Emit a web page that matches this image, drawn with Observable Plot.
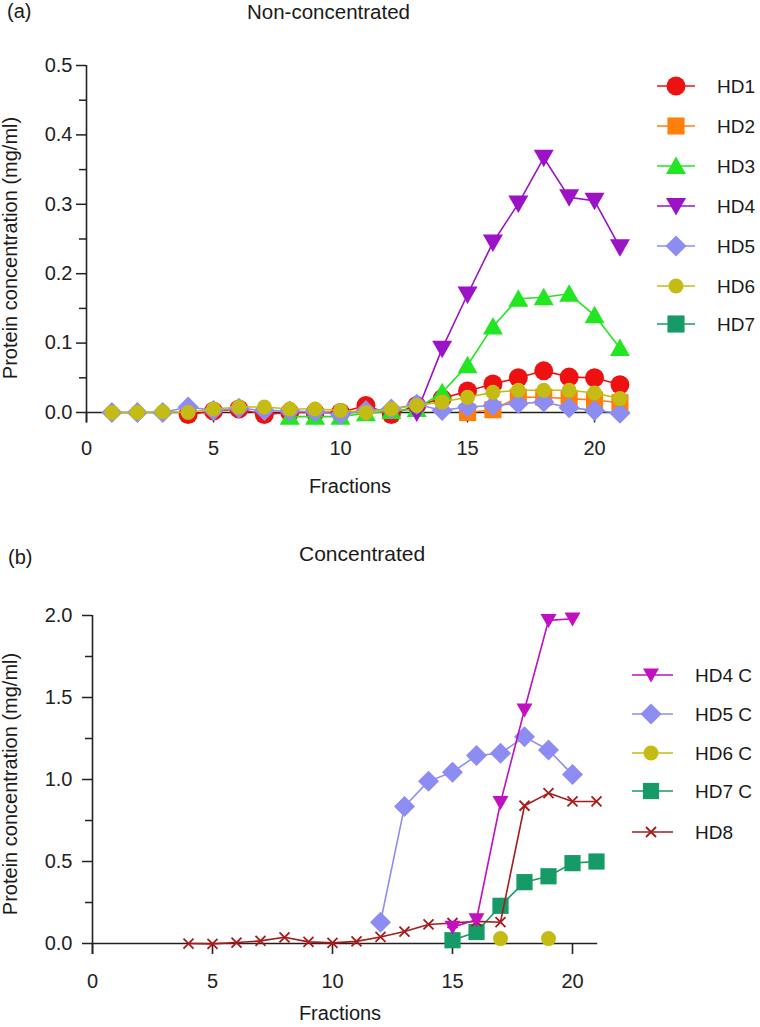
<!DOCTYPE html>
<html><head><meta charset="utf-8">
<script src="https://cdn.jsdelivr.net/npm/d3@7"></script>
<script src="https://cdn.jsdelivr.net/npm/@observablehq/plot@0.6"></script>
<style>
html,body{margin:0;padding:0;background:#fff;}
#wrap{position:relative;width:760px;height:1027px;overflow:hidden;}
#wrap svg{position:absolute;left:0;display:block;background:transparent;}
</style></head><body><div id="wrap"></div>
<script>
// ---------- DATA ----------
const fractions = [1,2,3,4,5,6,7,8,9,10,11,12,13,14,15,16,17,18,19,20,21];

// (a) Non-concentrated, protein concentration (mg/ml)
const hd1 = [null,null,null,-0.003,0.002,0.005,-0.003,0,0,0,0.01,-0.003,0.01,0.02,0.031,0.041,0.05,0.06,0.051,0.05,0.04];
const hd2 = [null,null,null,null,null,null,null,null,null,null,null,null,null,null,0,0.004,0.022,0.022,0.02,0.018,0.014];
const hd3 = [null,null,null,null,null,null,null,-0.006,-0.006,-0.006,-0.001,0.002,0.005,0.029,0.068,0.124,0.164,0.166,0.171,0.14,0.093];
const hd4 = [null,null,null,null,null,null,null,null,null,null,null,null,0,0.092,0.17,0.245,0.301,0.367,0.31,0.305,0.238];
const hd5 = [0,0,0,0.008,0.003,0.006,0.003,0.002,0.001,-0.003,0.003,0.005,0.012,0.003,0.008,0.01,0.013,0.015,0.007,0.003,-0.001];
const hd6 = [0,0,0.001,0,0.005,0.008,0.008,0.005,0.005,0.003,0,0.005,0.01,0.015,0.022,0.029,0.032,0.032,0.032,0.028,0.02];
const hd7 = [null,null,null,null,null,null,null,null,null,null,null,null,null,null,null,null,null,null,null,null,null];

// (b) Concentrated
const hd4c = [null,null,null,null,null,null,null,null,null,null,null,null,null,null,0.1,0.145,0.86,1.425,1.97,1.98,null];
const hd5c = [null,null,null,null,null,null,null,null,null,null,null,0.13,0.835,0.99,1.045,1.146,1.16,1.26,1.18,1.03,null];
const hd6c = [null,null,null,null,null,null,null,null,null,null,null,null,null,null,null,null,0.03,null,0.03,null,null];
const hd7c = [null,null,null,null,null,null,null,null,null,null,null,null,null,null,0.02,0.07,0.23,0.374,0.41,0.49,0.5];
const hd8  = [null,null,null,0,-0.002,0.006,0.016,0.038,0.01,0.004,0.013,0.04,0.073,0.116,0.125,0.135,0.13,0.84,0.917,0.866,0.866];

const xTicks = [0,5,10,15,20];
const yTicksA = [0,0.1,0.2,0.3,0.4,0.5];
const yMinorA = [0.05,0.15,0.25,0.35,0.45];
const yTicksB = [0,0.5,1.0,1.5,2.0];
const yMinorB = [0.25,0.75,1.25,1.75];

// ---------- SYMBOLS ----------
const mk = f => ({draw(ctx, size){ const r = Math.sqrt(size/Math.PI); f(ctx, r); }});
const symCircle = mk((c,r)=>{c.moveTo(r,0); c.arc(0,0,r,0,2*Math.PI); c.closePath();});
const symSquare = mk((c,r)=>{const s=r*0.9; c.moveTo(-s,-s); c.lineTo(s,-s); c.lineTo(s,s); c.lineTo(-s,s); c.closePath();});
const symTriUp = mk((c,r)=>{c.moveTo(0,-0.95*r); c.lineTo(r,0.8*r); c.lineTo(-r,0.8*r); c.closePath();});
const symTriDown = mk((c,r)=>{c.moveTo(0,0.95*r); c.lineTo(r,-0.8*r); c.lineTo(-r,-0.8*r); c.closePath();});
const symDiamond = mk((c,r)=>{const s=1.05*r; c.moveTo(0,-s); c.lineTo(s,0); c.lineTo(0,s); c.lineTo(-s,0); c.closePath();});
const symTimes = mk((c,r)=>{c.moveTo(-r,-r); c.lineTo(r,r); c.moveTo(r,-r); c.lineTo(-r,r);});

const seriesA = [
  {name:"HD1", values:hd1, color:"#ee1111", symbol:symCircle, r:9.5},
  {name:"HD2", values:hd2, color:"#ff7f0a", symbol:symSquare, r:9.5},
  {name:"HD3", values:hd3, color:"#22e622", symbol:symTriUp, r:10},
  {name:"HD4", values:hd4, color:"#9c12c6", symbol:symTriDown, r:10},
  {name:"HD5", values:hd5, color:"#8d8cf2", symbol:symDiamond, r:10},
  {name:"HD6", values:hd6, color:"#c4bc14", symbol:symCircle, r:7.5},
  {name:"HD7", values:hd7, color:"#169a68", symbol:symSquare, r:9.5}
];
const seriesB = [
  {name:"HD5 C", values:hd5c, color:"#8d8cf2", symbol:symDiamond, r:10},
  {name:"HD6 C", values:hd6c, color:"#c4bc14", symbol:symCircle, r:7.5},
  {name:"HD7 C", values:hd7c, color:"#169a68", symbol:symSquare, r:9},
  {name:"HD8",   values:hd8,  color:"#a61c1c", symbol:symTimes, r:5, stroked:true},
  {name:"HD4 C", values:hd4c, color:"#c010c0", symbol:symTriDown, r:8}
];
const legendOrderB = ["HD4 C","HD5 C","HD6 C","HD7 C","HD8"];

const FONT = "'Liberation Sans', Arial, Helvetica, sans-serif";
const AX = "#222";

function seriesMarks(series){
  const marks = [];
  for (const s of series){
    const rows = fractions.map((f,i)=>({f, v: s.values[i] == null ? NaN : s.values[i]}));
    marks.push(Plot.line(rows, {x:"f", y:"v", stroke:s.color, strokeWidth:1.6}));
    const pts = rows.filter(d => !isNaN(d.v));
    if (s.stroked) marks.push(Plot.dot(pts, {x:"f", y:"v", symbol:s.symbol, r:s.r, fill:"none", stroke:s.color, strokeWidth:1.8}));
    else marks.push(Plot.dot(pts, {x:"f", y:"v", symbol:s.symbol, r:s.r, fill:s.color, stroke:"none"}));
  }
  return marks;
}

function panel({height, marginTop, marginBottom, marginLeft, marginRight, xMax, yMin, yMax, yTicks, yMinor, tickPad, xPad, series, fmt}){
  return Plot.plot({
    width: 760, height, marginTop, marginBottom, marginLeft, marginRight,
    style: {fontFamily: FONT, fontSize: "20px", color: AX, background: "transparent", overflow: "visible"},
    x: {domain: [0, xMax]},
    y: {domain: [yMin, yMax]},
    marks: [
      Plot.axisY({ticks: yTicks, tickSize: 10, tickPadding: tickPad, tickFormat: d3.format(fmt), label: null, strokeWidth: 1.5}),
      Plot.axisY({ticks: yMinor, tickSize: 7, tickFormat: () => "", label: null, strokeWidth: 1.5}),
      Plot.axisX({ticks: xTicks, tickSize: 0, tickPadding: xPad, tickFormat: d3.format("d"), label: null}),
      Plot.ruleX([0], {y1: yMin, y2: yMax, stroke: AX, strokeWidth: 1.6}),
      Plot.ruleX(xTicks, {y1: yMin, y2: 0, stroke: AX, strokeWidth: 1.6}),
      Plot.ruleY([0], {x1: 0, x2: xMax, stroke: AX, strokeWidth: 1.6}),
      ...seriesMarks(series)
    ]
  });
}

function addText(g, x, y, str, opts = {}){
  const t = g.append("text").attr("x", x).attr("y", y).text(str)
    .attr("font-family", FONT).attr("font-size", opts.size || 20).attr("fill", "#1a1a1a")
    .attr("text-anchor", opts.anchor || "start");
  if (opts.rotate) t.attr("transform", `rotate(-90,${x},${y})`);
  return t;
}

function legend(svg, items, {xLine1, xLine2, xSym, xText, ys}){
  const g = d3.select(svg).append("g");
  items.forEach((s, i) => {
    const y = ys[i];
    g.append("line").attr("x1", xLine1).attr("x2", xLine2).attr("y1", y).attr("y2", y)
      .attr("stroke", s.color).attr("stroke-width", 1.6);
    const p = g.append("path").attr("transform", `translate(${xSym},${y})`)
      .attr("d", d3.symbol(s.symbol, s.r * s.r * Math.PI)());
    if (s.stroked) p.attr("fill", "none").attr("stroke", s.color).attr("stroke-width", 1.8);
    else p.attr("fill", s.color);
    addText(g, xText, y + 7, s.name, {size: 19});
  });
}

const wrap = document.getElementById("wrap");

// ---------- Panel (a) ----------
const svgA = panel({height: 500, marginTop: 65, marginBottom: 77.6, marginLeft: 86, marginRight: 130.4,
  xMax: 21.4, yMin: -0.015, yMax: 0.5, yTicks: yTicksA, yMinor: yMinorA, tickPad: 4, xPad: 18,
  series: seriesA, fmt: ".1f"});
svgA.style.top = "0px";
wrap.appendChild(svgA);
{
  const g = d3.select(svgA).append("g");
  addText(g, 7, 18, "(a)", {size: 20});
  addText(g, 247, 19, "Non-concentrated", {size: 20.5});
  addText(g, 350, 493, "Fractions", {anchor: "middle"});
  addText(g, 17, 248, "Protein concentration (mg/ml)", {anchor: "middle", rotate: true});
  legend(svgA, seriesA, {xLine1: 657, xLine2: 695, xSym: 676, xText: 717, ys: [86,126,166,206,246,286,324]});
}

// ---------- Panel (b) ----------
const svgB = panel({height: 527, marginTop: 115, marginBottom: 73, marginLeft: 92, marginRight: 162.8,
  xMax: 21.05, yMin: -0.067, yMax: 2.0, yTicks: yTicksB, yMinor: yMinorB, tickPad: 10, xPad: 19,
  series: seriesB, fmt: ".1f"});
svgB.style.top = "500px";
wrap.appendChild(svgB);
{
  const g = d3.select(svgB).append("g");
  addText(g, 8, 64, "(b)", {size: 20});
  addText(g, 299, 61, "Concentrated", {size: 21});
  addText(g, 340, 520, "Fractions", {anchor: "middle"});
  addText(g, 17, 284, "Protein concentration (mg/ml)", {anchor: "middle", rotate: true});
  const items = legendOrderB.map(n => seriesB.find(s => s.name === n));
  legend(svgB, items, {xLine1: 632, xLine2: 673, xSym: 651, xText: 695, ys: [175,214,253,291,332]});
}
</script>
</body></html>
